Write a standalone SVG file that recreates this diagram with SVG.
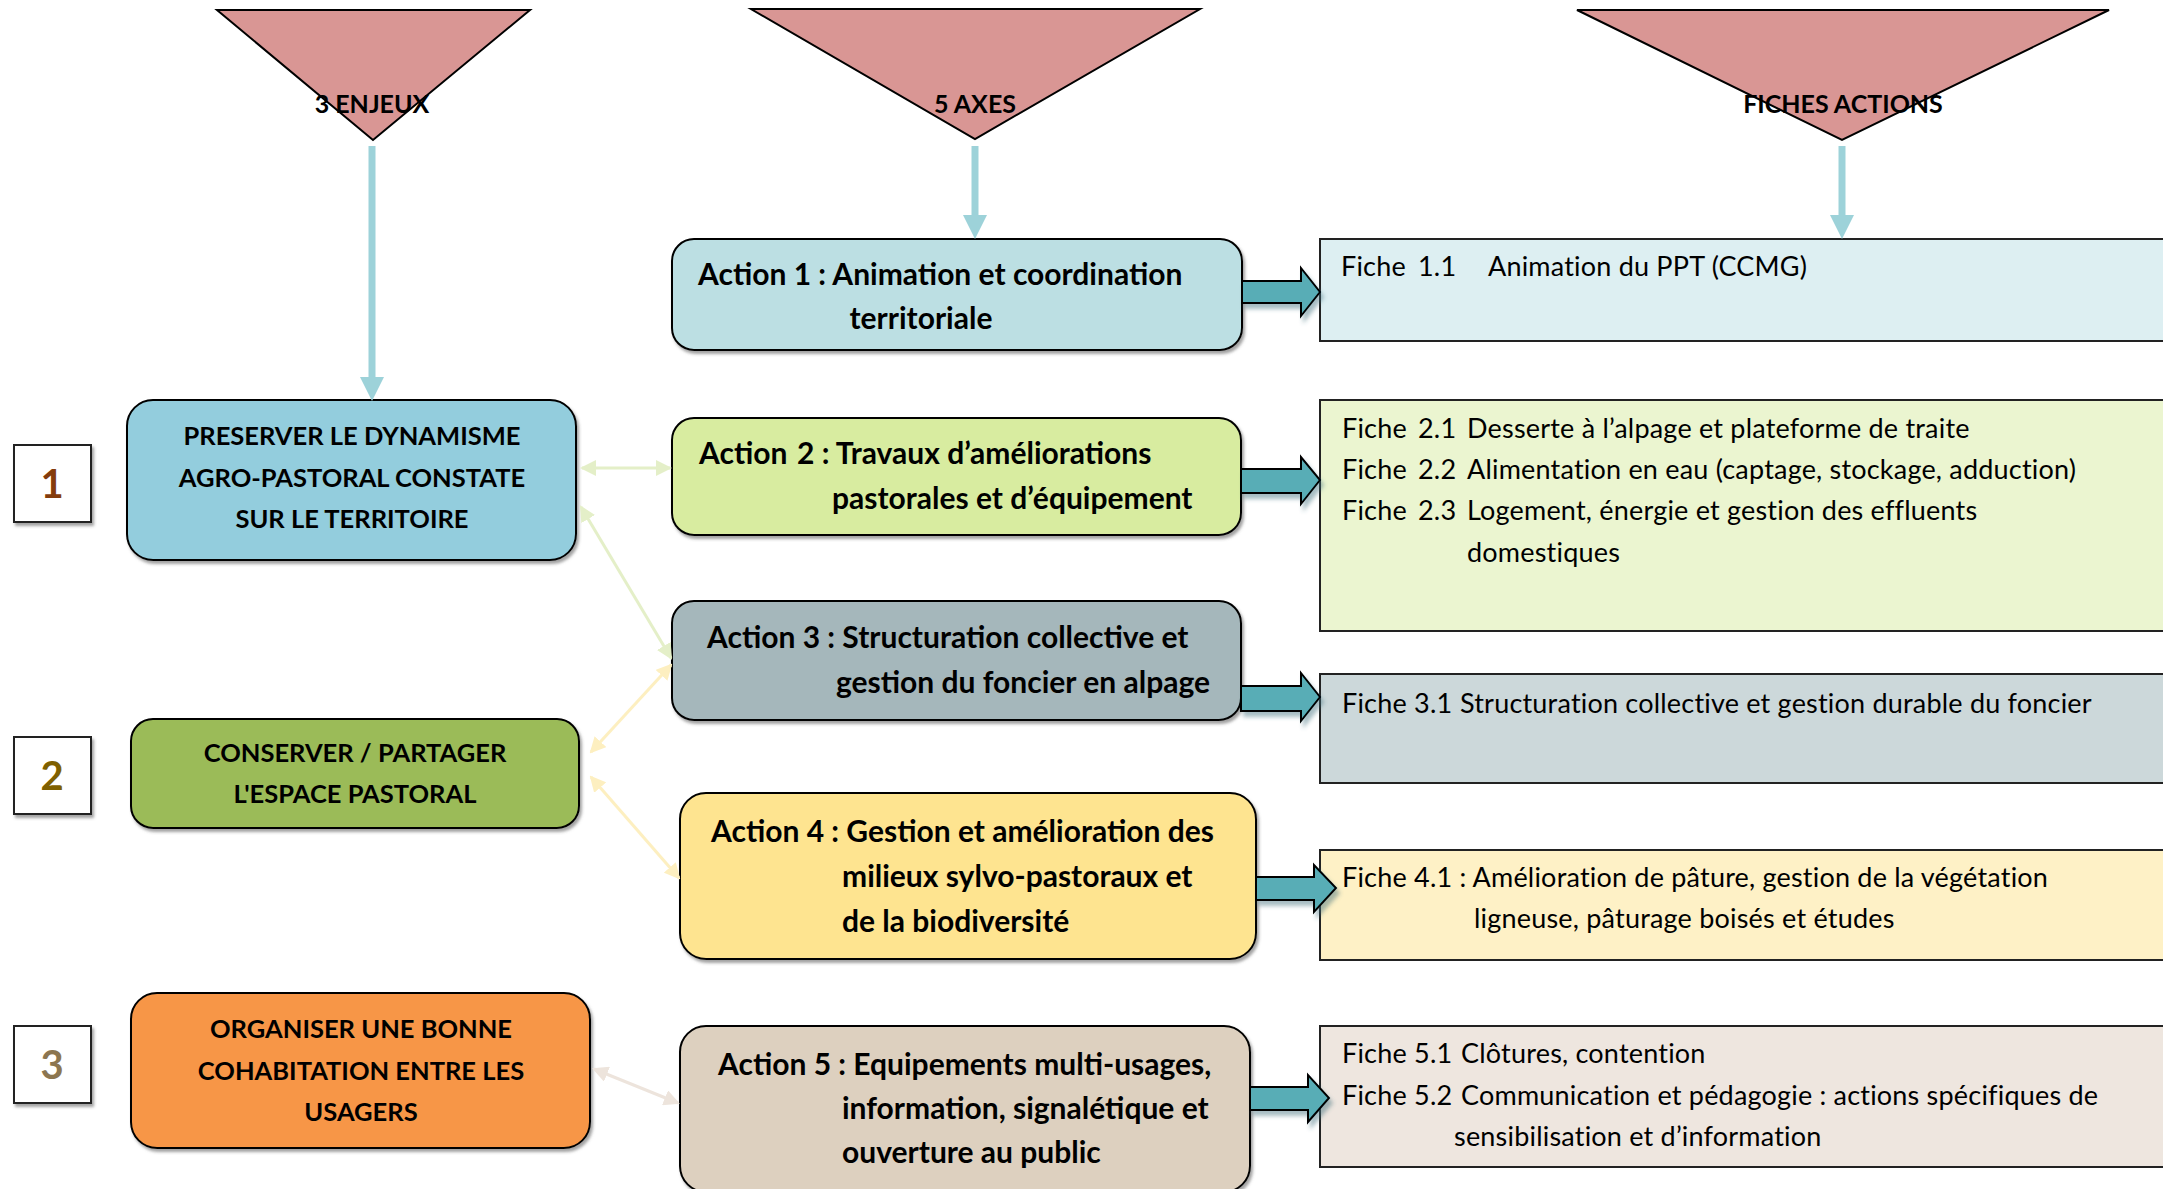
<svg xmlns="http://www.w3.org/2000/svg" width="2163" height="1189" viewBox="0 0 2163 1189">
<style>
text{font-family:Lato,"Liberation Sans",sans-serif;fill:#000}
.hd{font-size:25px;font-weight:bold;text-anchor:middle}
.act{font-size:30px;font-weight:bold}
.enj{font-size:25.5px;font-weight:bold;text-anchor:middle}
.fi{font-size:27px;letter-spacing:0.2px}
.num{font-size:40px;font-weight:bold;text-anchor:middle}
.box{stroke:#000;stroke-width:2}
.fbox{stroke:#222;stroke-width:2}
.tri{fill:#D99694;stroke:#000;stroke-width:2}
.blk{fill:#58adb6;stroke:#000;stroke-width:2}
.vline{stroke:#9dd2d9;stroke-width:7;fill:none}
</style>
<defs>
<filter id="sh" x="-10%" y="-10%" width="130%" height="140%">
<feDropShadow dx="2" dy="3" stdDeviation="1.5" flood-color="#555" flood-opacity="0.55"/>
</filter>
<filter id="ash" x="-20%" y="-30%" width="150%" height="180%">
<feDropShadow dx="3" dy="5" stdDeviation="2" flood-color="#3b6a78" flood-opacity="0.45"/>
</filter>
<marker id="vh" markerUnits="userSpaceOnUse" markerWidth="24" markerHeight="24" refX="0" refY="12" orient="auto" viewBox="0 0 24 24">
<path d="M0,0 L24,12 L0,24 Z" fill="#9dd2d9"/>
</marker>
<marker id="mg" markerUnits="userSpaceOnUse" markerWidth="16" markerHeight="16" refX="14" refY="8" orient="auto-start-reverse" viewBox="0 0 16 16">
<path d="M0,0 L16,8 L0,16 Z" fill="#e4efc8"/>
</marker>
<marker id="my" markerUnits="userSpaceOnUse" markerWidth="16" markerHeight="16" refX="14" refY="8" orient="auto-start-reverse" viewBox="0 0 16 16">
<path d="M0,0 L16,8 L0,16 Z" fill="#fdefc0"/>
</marker>
<marker id="mb" markerUnits="userSpaceOnUse" markerWidth="16" markerHeight="16" refX="14" refY="8" orient="auto-start-reverse" viewBox="0 0 16 16">
<path d="M0,0 L16,8 L0,16 Z" fill="#ede4dc"/>
</marker>
</defs>

<g id="head-enjeux">
<polygon class="tri" points="217,10 530,10 373,140"/>
<text class="hd" x="372" y="113">3 ENJEUX</text>
</g>
<g id="head-axes">
<polygon class="tri" points="751,9 1200,9 975,139"/>
<text class="hd" x="975" y="113">5 AXES</text>
</g>
<g id="head-fiches">
<polygon class="tri" points="1577,10 2109,10 1842,140"/>
<text class="hd" x="1843" y="113">FICHES ACTIONS</text>
</g>

<g id="num1"><rect class="fbox" x="14" y="445" width="77" height="77" fill="#fff" filter="url(#sh)"/><text class="num" x="52" y="498" style="fill:#843c0c">1</text></g>
<g id="num2"><rect class="fbox" x="14" y="737" width="77" height="77" fill="#fff" filter="url(#sh)"/><text class="num" x="52" y="790" style="fill:#7f6000">2</text></g>
<g id="num3"><rect class="fbox" x="14" y="1026" width="77" height="77" fill="#fff" filter="url(#sh)"/><text class="num" x="52" y="1079" style="fill:#8c7650">3</text></g>

<g id="enjeu1">
<rect class="box" x="127" y="400" width="449" height="160" rx="26" fill="#93cddd" filter="url(#sh)"/>
<text class="enj" x="352" y="445">PRESERVER LE DYNAMISME</text>
<text class="enj" x="352" y="487">AGRO-PASTORAL CONSTATE</text>
<text class="enj" x="352" y="528">SUR LE TERRITOIRE</text>
</g>
<g id="enjeu2">
<rect class="box" x="131" y="719" width="448" height="109" rx="22" fill="#9bbb59" filter="url(#sh)"/>
<text class="enj" x="355" y="762">CONSERVER / PARTAGER</text>
<text class="enj" x="355" y="803">L'ESPACE PASTORAL</text>
</g>
<g id="enjeu3">
<rect class="box" x="131" y="993" width="459" height="155" rx="26" fill="#f79646" filter="url(#sh)"/>
<text class="enj" x="361" y="1038">ORGANISER UNE BONNE</text>
<text class="enj" x="361" y="1080">COHABITATION ENTRE LES</text>
<text class="enj" x="361" y="1121">USAGERS</text>
</g>

<g id="action1">
<rect class="box" x="672" y="239" width="570" height="111" rx="22" fill="#bcdfe3" filter="url(#sh)"/>
<text class="act" x="698" y="285">Action 1 : Animation et coordination</text>
<text class="act" x="921" y="329" text-anchor="middle">territoriale</text>
</g>
<g id="action2">
<rect class="box" x="672" y="418" width="569" height="117" rx="22" fill="#d8eca0" filter="url(#sh)"/>
<text class="act" x="699" y="464">Action<tspan x="797">2 : Travaux d’améliorations</tspan></text>
<text class="act" x="832" y="509">pastorales et d’équipement</text>
</g>
<g id="action3">
<rect class="box" x="672" y="601" width="569" height="119" rx="22" fill="#a5b7bb" filter="url(#sh)"/>
<text class="act" x="707" y="648">Action 3 : Structuration collective et</text>
<text class="act" x="836" y="693">gestion du foncier en alpage</text>
</g>
<g id="action4">
<rect class="box" x="680" y="793" width="576" height="166" rx="26" fill="#fee490" filter="url(#sh)"/>
<text class="act" x="711" y="842">Action 4 : Gestion et amélioration des</text>
<text class="act" x="842" y="887">milieux sylvo-pastoraux et</text>
<text class="act" x="842" y="932">de la biodiversité</text>
</g>
<g id="action5">
<rect class="box" x="680" y="1026" width="570" height="166" rx="26" fill="#ddd0bf" filter="url(#sh)"/>
<text class="act" x="718" y="1075">Action 5 : Equipements multi-usages,</text>
<text class="act" x="842" y="1119">information, signalétique et</text>
<text class="act" x="842" y="1163">ouverture au public</text>
</g>

<g id="fiche1">
<rect class="fbox" x="1320" y="239" width="850" height="102" fill="#ddeff2"/>
<text class="fi" x="1341" y="276">Fiche<tspan x="1418">1.1</tspan><tspan x="1488">Animation du PPT (CCMG)</tspan></text>
</g>
<g id="fiche2">
<rect class="fbox" x="1320" y="400" width="850" height="231" fill="#ebf5d0"/>
<text class="fi" x="1342" y="438">Fiche<tspan x="1418">2.1</tspan><tspan x="1467">Desserte à l’alpage et plateforme de traite</tspan></text>
<text class="fi" x="1342" y="479">Fiche<tspan x="1418">2.2</tspan><tspan x="1467">Alimentation en eau (captage, stockage, adduction)</tspan></text>
<text class="fi" x="1342" y="520">Fiche<tspan x="1418">2.3</tspan><tspan x="1467">Logement, énergie et gestion des effluents</tspan></text>
<text class="fi" x="1467" y="562">domestiques</text>
</g>
<g id="fiche3">
<rect class="fbox" x="1320" y="674" width="850" height="109" fill="#ccd8da"/>
<text class="fi" x="1342" y="713">Fiche 3.1<tspan x="1460">Structuration collective et gestion durable du foncier</tspan></text>
</g>
<g id="fiche4">
<rect class="fbox" x="1320" y="850" width="850" height="110" fill="#fef1c6"/>
<text class="fi" x="1342" y="887">Fiche 4.1 : Amélioration de pâture, gestion de la végétation</text>
<text class="fi" x="1474" y="928">ligneuse, pâturage boisés et études</text>
</g>
<g id="fiche5">
<rect class="fbox" x="1320" y="1026" width="850" height="141" fill="#eee6df"/>
<text class="fi" x="1342" y="1063">Fiche 5.1<tspan x="1461">Clôtures, contention</tspan></text>
<text class="fi" x="1342" y="1105">Fiche 5.2<tspan x="1461">Communication et pédagogie : actions spécifiques de</tspan></text>
<text class="fi" x="1454" y="1146">sensibilisation et d’information</text>
</g>

<g id="connectors">
<line class="vline" x1="372" y1="146" x2="372" y2="377" marker-end="url(#vh)"/>
<line class="vline" x1="975" y1="146" x2="975" y2="215" marker-end="url(#vh)"/>
<line class="vline" x1="1842" y1="146" x2="1842" y2="215" marker-end="url(#vh)"/>
<path class="blk" filter="url(#ash)" d="M1242,281 H1301 V268 L1320,292 L1301,316 V303 H1242 Z"/>
<path class="blk" filter="url(#ash)" d="M1241,469 H1301 V457 L1320,480 L1301,504 V493 H1241 Z"/>
<path class="blk" filter="url(#ash)" d="M1241,686 H1301 V673 L1320,697 L1301,721 V711 H1241 Z"/>
<path class="blk" filter="url(#ash)" d="M1256,877 H1314 V865 L1336,888 L1314,912 V900 H1256 Z"/>
<path class="blk" filter="url(#ash)" d="M1250,1087 H1308 V1075 L1329,1098 L1308,1122 V1110 H1250 Z"/>
<line x1="582" y1="468" x2="670" y2="468" stroke="#e4efc8" stroke-width="3" marker-start="url(#mg)" marker-end="url(#mg)"/>
<line x1="581" y1="507" x2="671" y2="658" stroke="#e4efc8" stroke-width="3" marker-start="url(#mg)" marker-end="url(#mg)"/>
<line x1="671" y1="665" x2="591" y2="752" stroke="#fdefc0" stroke-width="3" marker-start="url(#my)" marker-end="url(#my)"/>
<line x1="591" y1="777" x2="679" y2="878" stroke="#fdefc0" stroke-width="3" marker-start="url(#my)" marker-end="url(#my)"/>
<line x1="594" y1="1069" x2="678" y2="1103" stroke="#ede4dc" stroke-width="3" marker-start="url(#mb)" marker-end="url(#mb)"/>
</g>
</svg>
